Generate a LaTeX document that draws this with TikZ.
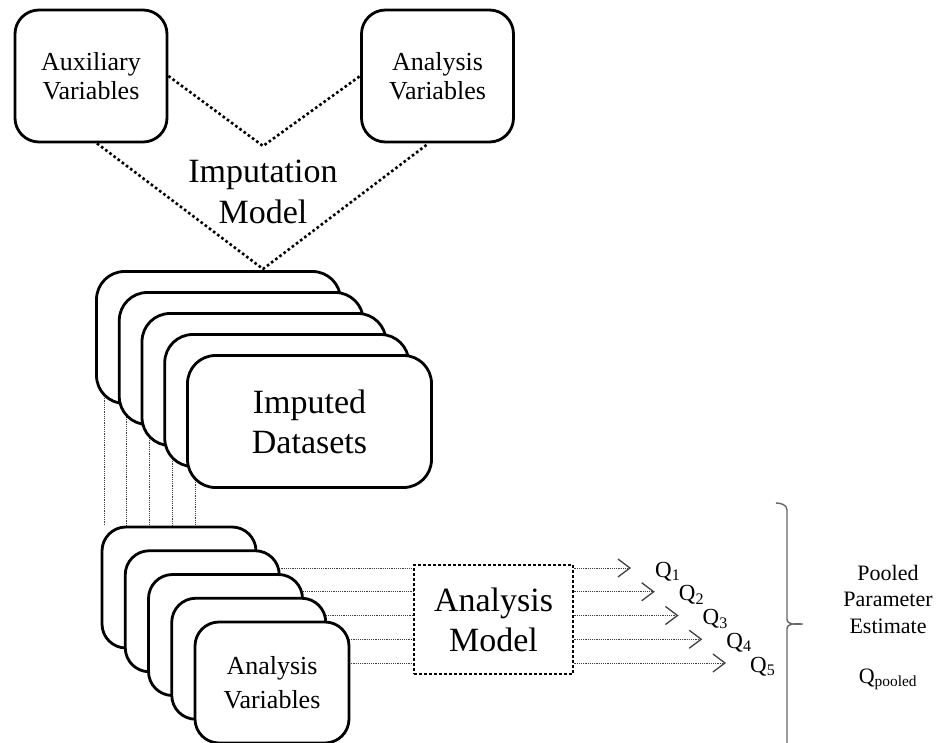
\documentclass[tikz,border=0pt]{standalone}
\usepackage{fontspec}
\setmainfont{Liberation Serif}
\usetikzlibrary{arrows.meta,backgrounds,calc}

\tikzset{
  varbox/.style={ draw, fill=white, line width=2.8pt, rounded corners=24pt, minimum width=152pt, minimum height=132pt, align=center, font=\fontsize{26}{29}\selectfont }
}
\tikzset{
  impbox/.style={ draw, fill=white, line width=2.8pt, rounded corners=28pt, minimum width=244pt, minimum height=132pt, align=center, font=\fontsize{34}{40}\selectfont }
}
\tikzset{
  anbox/.style={ draw, fill=white, line width=2.8pt, rounded corners=24pt, minimum width=154pt, minimum height=121pt, align=center, font=\fontsize{26}{34}\selectfont }
}
\tikzset{
  modbox/.style={ draw, line width=2.6pt, dash pattern=on 2.6pt off 2.4pt, minimum width=159pt, minimum height=109pt, align=center, font=\fontsize{34}{40}\selectfont }
}
\tikzset{
  dotlink/.style={ line width=2.6pt, dash pattern=on 2.6pt off 2.6pt },
  thinlink/.style={ line width=1pt, black!75, dash pattern=on 1.2pt off 1pt },
  qarrow/.style={ thinlink, -{Straight Barb[length=12pt,width=18pt,line width=1.3pt]} }
}

\begin{document}
\begin{tikzpicture}[x=1pt, y=-1pt]
  \useasboundingbox (0,0) rectangle (939,743);

  % bottom stack
  \foreach \i in {1,...,4}
    \node[anbox] (bot\i) at ({179+23.25*(\i-1)}, {587.5+23.75*(\i-1)}) {};
  \node[anbox] (bot5) at (272, 682.5) {Analysis\\Variables};

  % imputed stack
  \foreach \i in {1,...,4}
    \node[impbox] (imp\i) at ({218.5+22.75*(\i-1)}, {337.5+21*(\i-1)}) {};
  \node[impbox] (imp5) at (309.5, 421.5) {Imputed\\Datasets};

  % inputs of the imputation model
  \node[varbox] (aux) at (91, 76) {Auxiliary\\Variables};
  \node[varbox] (anv) at (437.5, 76) {Analysis\\Variables};
  \node[font=\fontsize{34}{41}\selectfont, align=center] (impmod) at (263, 192) {Imputation\\Model};
  \coordinate (vtop) at (263, 146);
  \coordinate (vbot) at (263, 269);
  \draw[dotlink] (aux.east) -- (vtop) -- (anv.west);
  \draw[dotlink] ([xshift=6pt]aux.south) -- (vbot) -- ([xshift=-9pt]anv.south);

  % analysis model
  \node[modbox] (am) at (493.5, 619.5) {Analysis\\Model};

  \begin{scope}[on background layer]
    \foreach \i in {1,...,5} {
      \path ([xshift=9pt, yshift=20pt]imp\i.south west) coordinate (v\i);
      \draw[thinlink] (v\i) -- (v\i |- bot1.north);
    }
    \foreach \i/\j in {1/2, 2/3, 3/4, 4/5, 5/5} {
      \coordinate (t\i) at ({631+23.75*(\i-1)}, {568+23.75*(\i-1)});
      \draw[thinlink] (bot\j.center |- t\i) -- (am.west |- t\i);
    }
  \end{scope}

  % estimates
  \foreach \i in {1,...,5} {
    \draw[qarrow] (am.east |- t\i) -- (t\i);
    \node[anchor=base west, inner sep=0pt, font=\fontsize{23}{26}\selectfont] (q\i) at ([xshift=24pt, yshift=-9pt]t\i) {Q\textsubscript{\i}};
  }

  % pooling bracket
  \draw[black!60, line width=1.4pt] (776,503) to[out=0, in=90] (787,510) -- (787,619)
    to[out=-90, in=180] (803,624) to[out=180, in=90] (787,629) -- (787,745);
  \node[font=\fontsize{22}{26.5}\selectfont, align=center] (pool) at (888, 599) {Pooled\\Parameter\\Estimate};
  \node[anchor=base, font=\fontsize{22}{26}\selectfont] (qpool) at (888, 683) {Q\textsubscript{pooled}};
\end{tikzpicture}
\end{document}
